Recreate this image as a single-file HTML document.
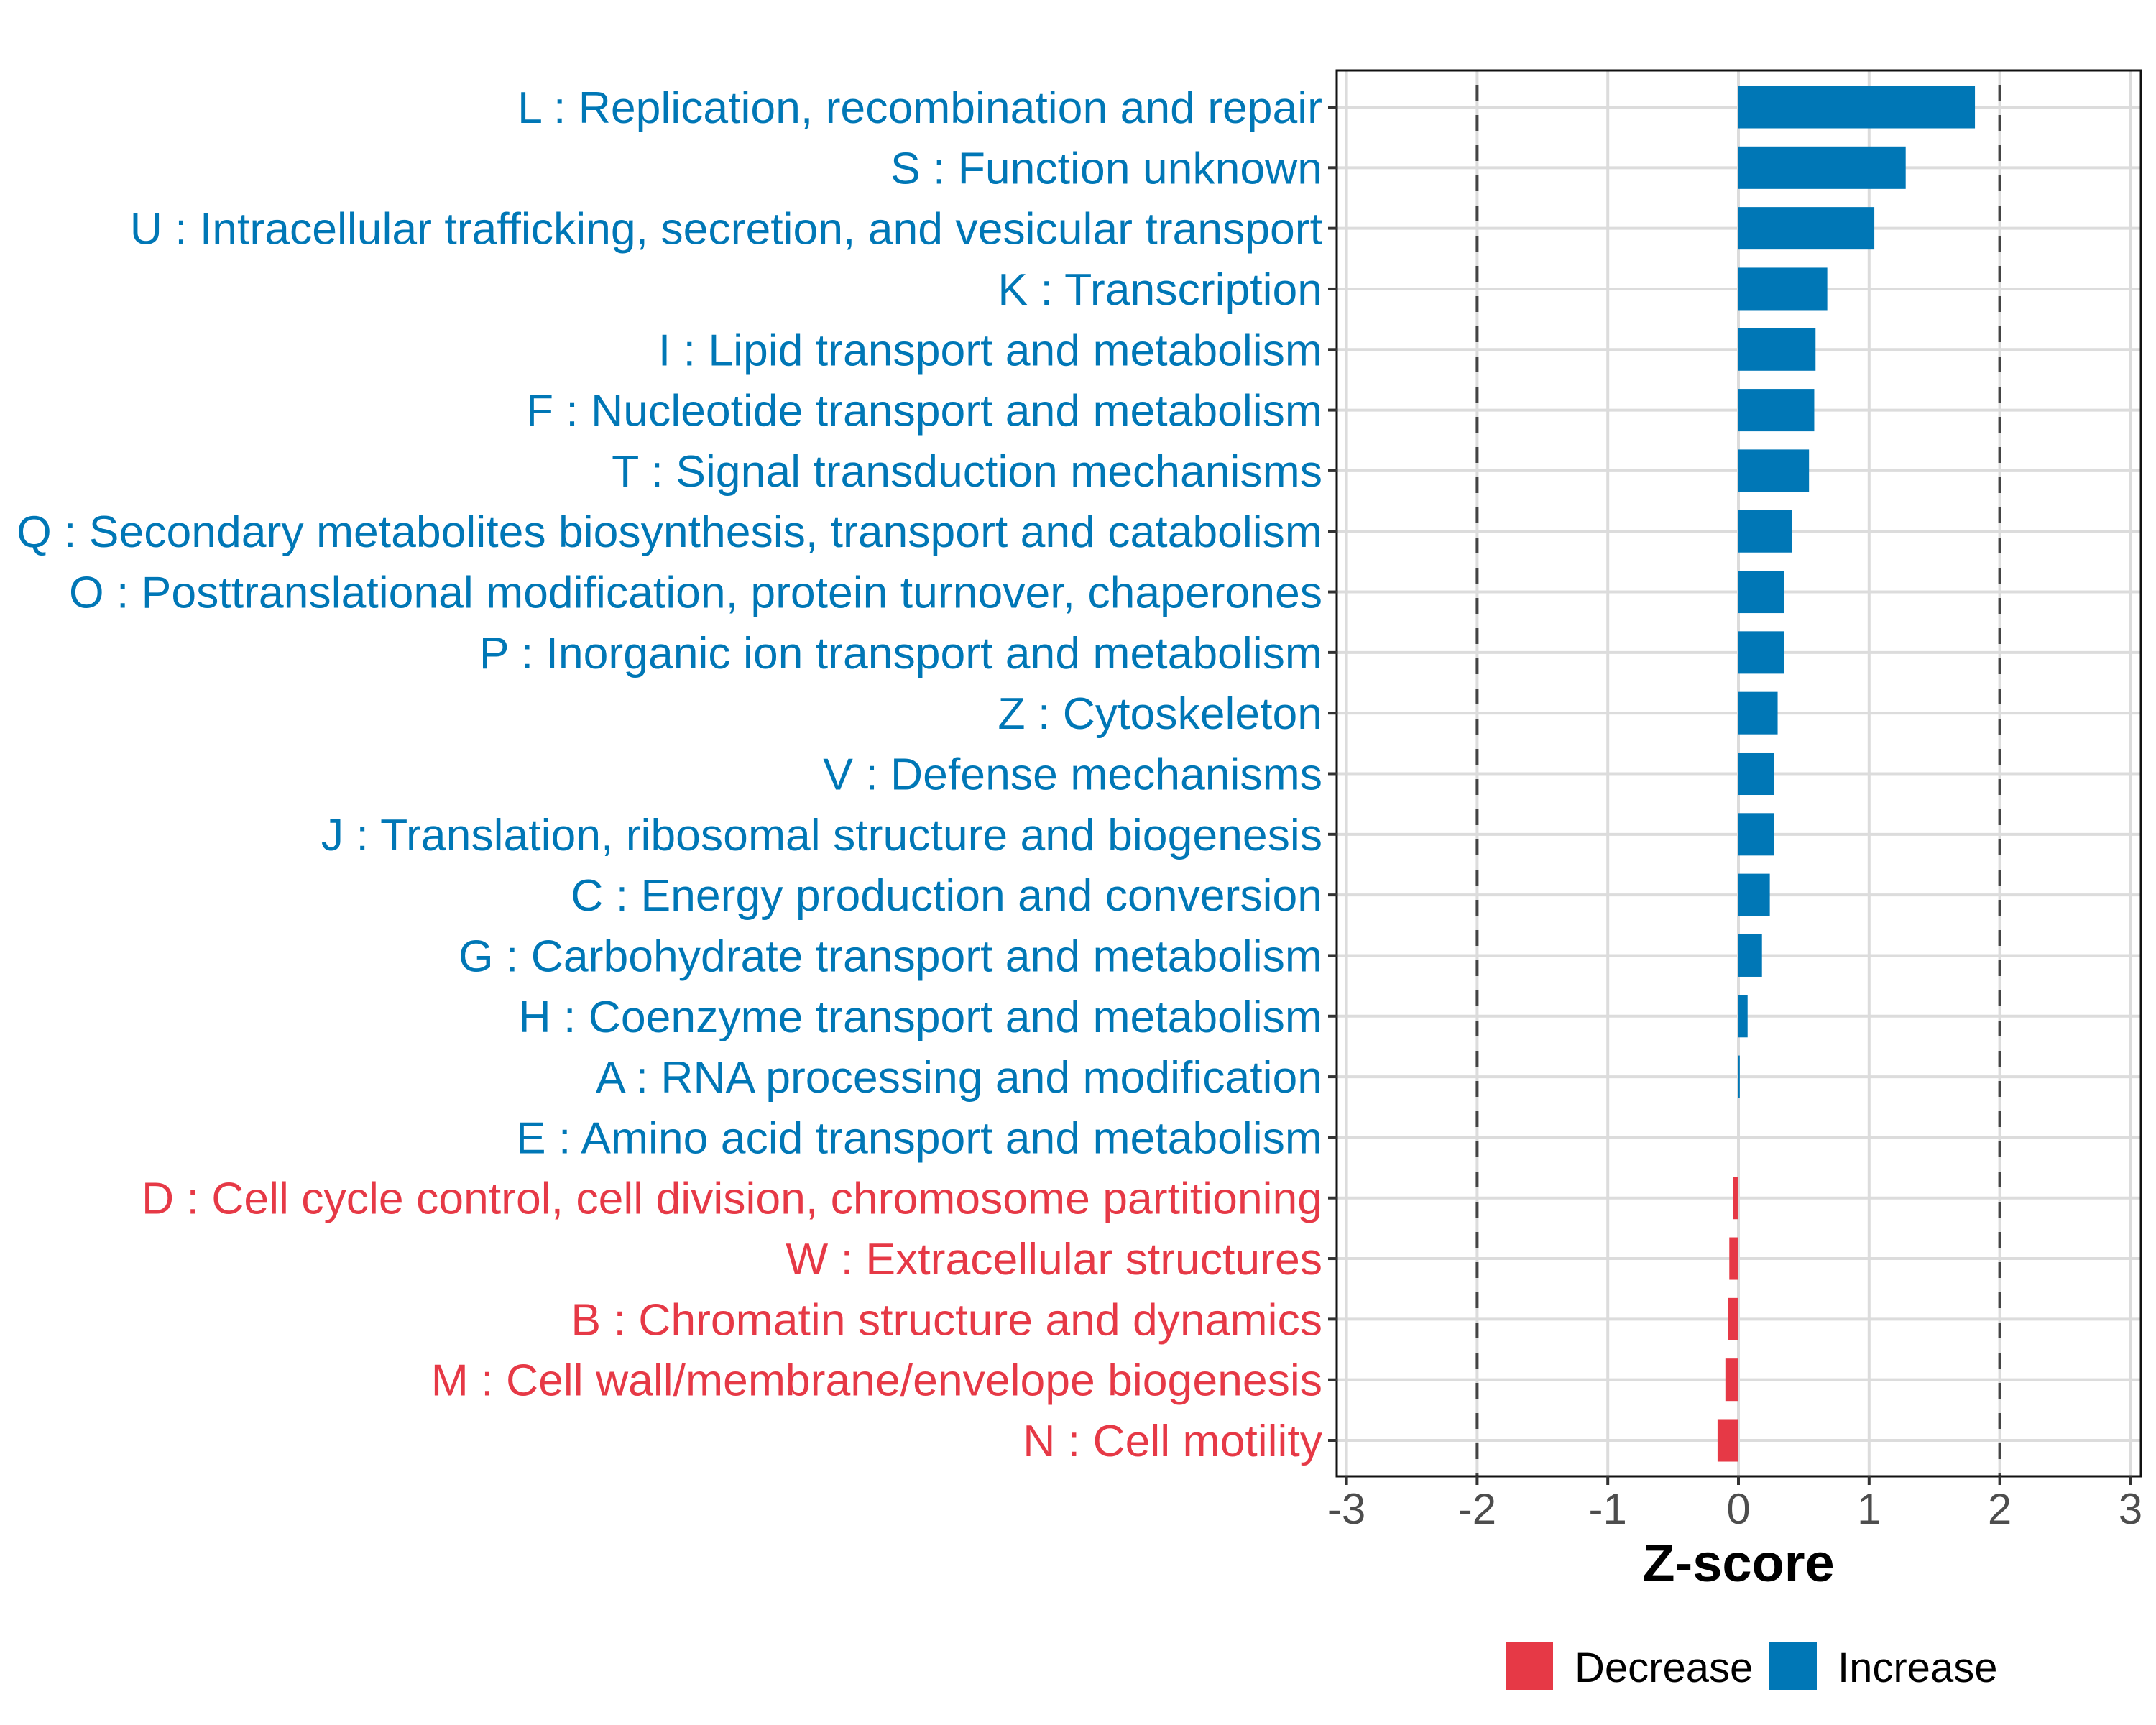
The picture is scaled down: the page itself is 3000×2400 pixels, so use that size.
<!DOCTYPE html>
<html><head><meta charset="utf-8"><style>
html,body{margin:0;padding:0;background:#fff;}
svg{display:block;font-family:"Liberation Sans",Arial,sans-serif;}
</style></head><body>
<svg id="chart" width="3000" height="2400" viewBox="0 0 3000 2400" xmlns="http://www.w3.org/2000/svg">
<rect width="3000" height="2400" fill="#fff"/>
<g id="grid"></g><g id="bars"></g><g id="axes"></g>
</svg>
<script>
const categories=["L : Replication, recombination and repair","S : Function unknown","U : Intracellular trafficking, secretion, and vesicular transport","K : Transcription","I : Lipid transport and metabolism","F : Nucleotide transport and metabolism","T : Signal transduction mechanisms","Q : Secondary metabolites biosynthesis, transport and catabolism","O : Posttranslational modification, protein turnover, chaperones","P : Inorganic ion transport and metabolism","Z : Cytoskeleton","V : Defense mechanisms","J : Translation, ribosomal structure and biogenesis","C : Energy production and conversion","G : Carbohydrate transport and metabolism","H : Coenzyme transport and metabolism","A : RNA processing and modification","E : Amino acid transport and metabolism","D : Cell cycle control, cell division, chromosome partitioning","W : Extracellular structures","B : Chromatin structure and dynamics","M : Cell wall/membrane/envelope biogenesis","N : Cell motility"];
const zscores=[1.81,1.28,1.04,0.68,0.59,0.58,0.54,0.41,0.35,0.35,0.30,0.27,0.27,0.24,0.18,0.07,0.01,0,-0.04,-0.07,-0.08,-0.10,-0.16];
const xTicks=[-3,-2,-1,0,1,2,3];
const xTickLabels=["-3","-2","-1","0","1","2","3"];
const thresholds=[-2,2];

const NS="http://www.w3.org/2000/svg";
const BLUE="#0077b6",RED="#e63946";
const PL=1860,PR=2979,PT=98,PB=2054;
const X0=2419,UNIT=181.8;
const x=v=>X0+v*UNIT;
const Y0=149,STEP=(2004-149)/(categories.length-1);
const y=i=>Y0+i*STEP;
function mk(tag,attrs,parent){const e=document.createElementNS(NS,tag);for(const k in attrs)e.setAttribute(k,attrs[k]);parent.appendChild(e);return e;}
const grid=document.getElementById('grid'),bars=document.getElementById('bars'),axes=document.getElementById('axes');

xTicks.forEach((t,i)=>{const l=mk('line',{x1:x(t),x2:x(t),y1:PT,y2:PB,stroke:'#dcdcdc','stroke-width':4},grid);

});
categories.forEach((c,i)=>{const l=mk('line',{x1:PL,x2:PR,y1:y(i),y2:y(i),stroke:'#dcdcdc','stroke-width':4},grid);

});
const bh=STEP*0.7;
categories.forEach((c,i)=>{const v=zscores[i];const col=v<0?RED:BLUE;
const r=mk('rect',{x:Math.min(x(0),x(v)),y:y(i)-bh/2,width:Math.max(Math.abs(x(v)-x(0)),v===0?0:1),height:bh,fill:col},bars);

});
thresholds.forEach(t=>{const l=mk('line',{x1:x(t),x2:x(t),y1:PT,y2:PB,stroke:'#444','stroke-width':4,'stroke-dasharray':'22 20','stroke-dashoffset':'-20'},bars);

});
const br=mk('rect',{x:PL,y:PT,width:PR-PL,height:PB-PT,fill:'none',stroke:'#111','stroke-width':3},axes);


categories.forEach((c,i)=>{const v=zscores[i];
const tk=mk('line',{x1:PL-12,x2:PL,y1:y(i),y2:y(i),stroke:'#333','stroke-width':4},axes);


const t=mk('text',{x:1840,y:y(i)+22,'text-anchor':'end','font-size':62.5,fill:v<0?RED:BLUE},axes);
t.textContent=c;

});
xTicks.forEach((tv,i)=>{const tk=mk('line',{x1:x(tv),x2:x(tv),y1:PB,y2:PB+12,stroke:'#333','stroke-width':4},axes);


const t=mk('text',{x:x(tv),y:2120,'text-anchor':'middle','font-size':60,fill:'#4d4d4d'},axes);
t.textContent=xTickLabels[i];

});
const xt=mk('text',{x:x(0),y:2200,'text-anchor':'middle','font-size':74,'font-weight':'bold',fill:'#000'},axes);
xt.textContent='Z-score';


const leg=[["Decrease",RED,2095,2191],["Increase",BLUE,2462,2557]];
leg.forEach(([lab,col,kx,tx])=>{const r=mk('rect',{x:kx,y:2285,width:66,height:66,fill:col},axes);


const t=mk('text',{x:tx,y:2340,'font-size':58,fill:'#000'},axes);
t.textContent=lab;

});
</script>
</body></html>
